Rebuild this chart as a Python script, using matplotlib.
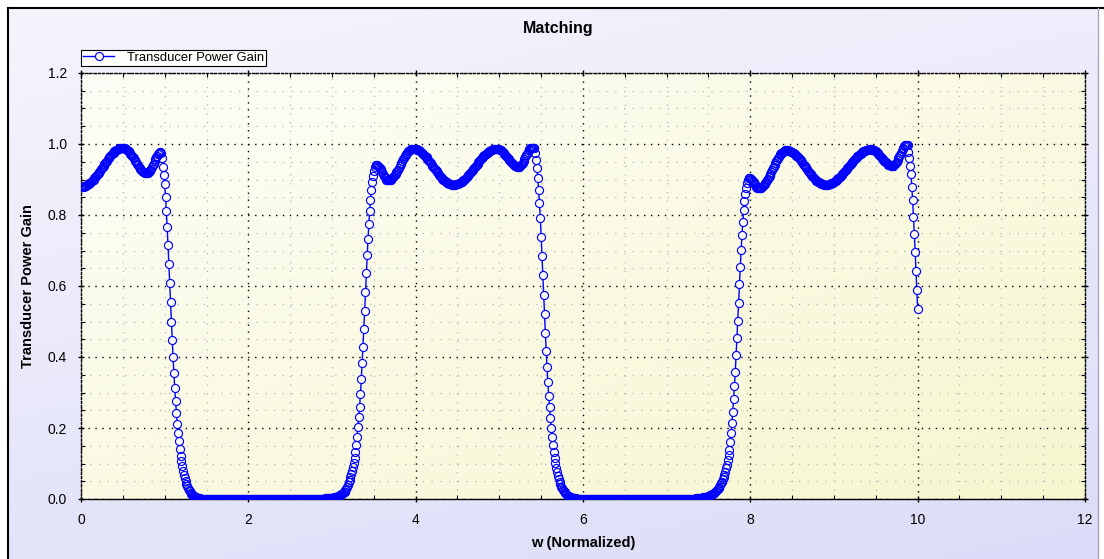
import numpy as np
import matplotlib
matplotlib.use("Agg")
import matplotlib.pyplot as plt
from matplotlib.colors import LinearSegmentedColormap
from matplotlib.lines import Line2D
from matplotlib.ticker import MultipleLocator, FormatStrFormatter

plt.rcParams['font.family'] = ['Liberation Sans', 'DejaVu Sans']

# ---------------- data ----------------
# normalized frequency is sampled every 0.01; each block lists the gain
# starting at its own start frequency.
step = 0.01

band1_start = 0.00          # first passband and its roll-off (0.00 .. 1.39)
band1_gain = [
    0.880, 0.880, 0.880, 0.880, 0.881, 0.882, 0.883, 0.884, 0.886, 0.887,
    0.889, 0.891, 0.893, 0.895, 0.898, 0.900, 0.903, 0.906, 0.909, 0.912,
    0.915, 0.918, 0.922, 0.925, 0.929, 0.932, 0.936, 0.939, 0.943, 0.946,
    0.950, 0.953, 0.957, 0.960, 0.963, 0.966, 0.969, 0.971, 0.974, 0.976,
    0.979, 0.981, 0.983, 0.984, 0.986, 0.987, 0.988, 0.988, 0.989, 0.989,
    0.989, 0.989, 0.988, 0.987, 0.985, 0.983, 0.981, 0.979, 0.976, 0.973,
    0.970, 0.967, 0.963, 0.960, 0.956, 0.952, 0.948, 0.944, 0.940, 0.936,
    0.933, 0.930, 0.927, 0.924, 0.922, 0.920, 0.919, 0.918, 0.918, 0.918,
    0.919, 0.921, 0.923, 0.926, 0.930, 0.935, 0.940, 0.945, 0.951, 0.957,
    0.962, 0.967, 0.972, 0.975, 0.977, 0.977, 0.974, 0.961, 0.936, 0.913,
    0.887, 0.852, 0.812, 0.765, 0.715, 0.662, 0.609, 0.554, 0.499, 0.448,
    0.399, 0.356, 0.314, 0.277, 0.243, 0.211, 0.185, 0.162, 0.141, 0.122,
    0.106, 0.092, 0.079, 0.068, 0.058, 0.050, 0.043, 0.036, 0.031, 0.026,
    0.022, 0.018, 0.015, 0.012, 0.010, 0.008, 0.006, 0.005, 0.004, 0.003]

stop1_start = 1.40          # first stopband (1.40 .. 2.99)
stop1_gain = [
    0.002, 0.002, 0.002, 0.001, 0.001, 0.001, 0.001, 0.001, 0.001, 0.001,
    0.000, 0.000, 0.000, 0.000, 0.000, 0.000, 0.000, 0.000, 0.000, 0.000,
    0.000, 0.000, 0.000, 0.000, 0.000, 0.000, 0.000, 0.000, 0.000, 0.000,
    0.000, 0.000, 0.000, 0.000, 0.000, 0.000, 0.000, 0.000, 0.000, 0.000,
    0.000, 0.000, 0.000, 0.000, 0.000, 0.000, 0.000, 0.000, 0.000, 0.000,
    0.000, 0.000, 0.000, 0.000, 0.000, 0.000, 0.000, 0.000, 0.000, 0.000,
    0.000, 0.000, 0.000, 0.000, 0.000, 0.000, 0.000, 0.000, 0.000, 0.000,
    0.000, 0.000, 0.000, 0.000, 0.000, 0.000, 0.000, 0.000, 0.000, 0.000,
    0.000, 0.000, 0.000, 0.000, 0.000, 0.000, 0.000, 0.000, 0.000, 0.000,
    0.000, 0.000, 0.000, 0.000, 0.000, 0.000, 0.000, 0.000, 0.000, 0.000,
    0.000, 0.000, 0.000, 0.000, 0.000, 0.000, 0.000, 0.000, 0.000, 0.000,
    0.000, 0.000, 0.000, 0.000, 0.000, 0.000, 0.000, 0.000, 0.000, 0.000,
    0.000, 0.000, 0.000, 0.000, 0.000, 0.000, 0.000, 0.000, 0.000, 0.000,
    0.000, 0.000, 0.000, 0.000, 0.000, 0.000, 0.000, 0.000, 0.000, 0.000,
    0.000, 0.000, 0.000, 0.000, 0.000, 0.001, 0.001, 0.001, 0.001, 0.001,
    0.001, 0.001, 0.002, 0.002, 0.002, 0.002, 0.003, 0.003, 0.003, 0.003]

band2_start = 3.00          # second passband with both edges (3.00 .. 5.89)
band2_gain = [
    0.004, 0.004, 0.005, 0.005, 0.006, 0.006, 0.007, 0.008, 0.009, 0.010,
    0.011, 0.013, 0.014, 0.016, 0.019, 0.021, 0.025, 0.029, 0.034, 0.040,
    0.047, 0.054, 0.062, 0.071, 0.080, 0.090, 0.102, 0.116, 0.133, 0.152,
    0.176, 0.202, 0.230, 0.260, 0.296, 0.337, 0.382, 0.429, 0.478, 0.530,
    0.584, 0.636, 0.686, 0.732, 0.774, 0.811, 0.843, 0.870, 0.893, 0.911,
    0.925, 0.935, 0.940, 0.941, 0.940, 0.938, 0.936, 0.933, 0.929, 0.925,
    0.920, 0.915, 0.910, 0.906, 0.903, 0.900, 0.899, 0.898, 0.898, 0.899,
    0.900, 0.902, 0.904, 0.906, 0.909, 0.912, 0.916, 0.920, 0.924, 0.928,
    0.933, 0.938, 0.943, 0.947, 0.952, 0.957, 0.961, 0.965, 0.969, 0.973,
    0.976, 0.979, 0.981, 0.983, 0.985, 0.986, 0.987, 0.987, 0.987, 0.987,
    0.986, 0.985, 0.984, 0.983, 0.982, 0.980, 0.978, 0.976, 0.974, 0.972,
    0.970, 0.967, 0.964, 0.962, 0.959, 0.955, 0.952, 0.949, 0.946, 0.942,
    0.939, 0.936, 0.933, 0.929, 0.926, 0.923, 0.920, 0.917, 0.914, 0.911,
    0.908, 0.905, 0.902, 0.900, 0.898, 0.896, 0.894, 0.892, 0.890, 0.889,
    0.888, 0.887, 0.886, 0.885, 0.885, 0.885, 0.885, 0.885, 0.886, 0.886,
    0.887, 0.888, 0.890, 0.891, 0.892, 0.894, 0.896, 0.898, 0.900, 0.902,
    0.905, 0.907, 0.910, 0.912, 0.915, 0.918, 0.921, 0.924, 0.927, 0.930,
    0.933, 0.936, 0.939, 0.942, 0.945, 0.948, 0.951, 0.954, 0.957, 0.960,
    0.962, 0.965, 0.968, 0.970, 0.972, 0.974, 0.976, 0.978, 0.980, 0.981,
    0.983, 0.984, 0.985, 0.986, 0.986, 0.987, 0.987, 0.987, 0.987, 0.986,
    0.985, 0.984, 0.982, 0.980, 0.978, 0.976, 0.973, 0.970, 0.967, 0.964,
    0.961, 0.958, 0.955, 0.952, 0.949, 0.946, 0.944, 0.942, 0.940, 0.938,
    0.937, 0.936, 0.935, 0.935, 0.936, 0.937, 0.940, 0.943, 0.947, 0.952,
    0.957, 0.963, 0.968, 0.973, 0.978, 0.982, 0.985, 0.988, 0.989, 0.990,
    0.990, 0.990, 0.988, 0.974, 0.955, 0.932, 0.903, 0.870, 0.833, 0.791,
    0.739, 0.685, 0.631, 0.575, 0.520, 0.467, 0.418, 0.371, 0.330, 0.290,
    0.258, 0.227, 0.201, 0.175, 0.152, 0.133, 0.116, 0.101, 0.088, 0.076,
    0.065, 0.056, 0.048, 0.041, 0.035, 0.030, 0.026, 0.022, 0.019, 0.016,
    0.013, 0.011, 0.009, 0.008, 0.007, 0.006, 0.005, 0.004, 0.003, 0.003]

stop2_start = 5.90          # second stopband (5.90 .. 7.49)
stop2_gain = [
    0.002, 0.002, 0.002, 0.001, 0.001, 0.001, 0.001, 0.001, 0.001, 0.001,
    0.001, 0.000, 0.000, 0.000, 0.000, 0.000, 0.000, 0.000, 0.000, 0.000,
    0.000, 0.000, 0.000, 0.000, 0.000, 0.000, 0.000, 0.000, 0.000, 0.000,
    0.000, 0.000, 0.000, 0.000, 0.000, 0.000, 0.000, 0.000, 0.000, 0.000,
    0.000, 0.000, 0.000, 0.000, 0.000, 0.000, 0.000, 0.000, 0.000, 0.000,
    0.000, 0.000, 0.000, 0.000, 0.000, 0.000, 0.000, 0.000, 0.000, 0.000,
    0.000, 0.000, 0.000, 0.000, 0.000, 0.000, 0.000, 0.000, 0.000, 0.000,
    0.000, 0.000, 0.000, 0.000, 0.000, 0.000, 0.000, 0.000, 0.000, 0.000,
    0.000, 0.000, 0.000, 0.000, 0.000, 0.000, 0.000, 0.000, 0.000, 0.000,
    0.000, 0.000, 0.000, 0.000, 0.000, 0.000, 0.000, 0.000, 0.000, 0.000,
    0.000, 0.000, 0.000, 0.000, 0.000, 0.000, 0.000, 0.000, 0.000, 0.000,
    0.000, 0.000, 0.000, 0.000, 0.000, 0.000, 0.000, 0.000, 0.000, 0.000,
    0.000, 0.000, 0.000, 0.000, 0.000, 0.000, 0.000, 0.000, 0.000, 0.000,
    0.000, 0.000, 0.000, 0.000, 0.000, 0.000, 0.000, 0.000, 0.000, 0.000,
    0.001, 0.001, 0.001, 0.001, 0.001, 0.002, 0.002, 0.002, 0.002, 0.003,
    0.003, 0.004, 0.004, 0.004, 0.005, 0.005, 0.006, 0.006, 0.007, 0.007]

band3_start = 7.50          # third passband, cut off at w = 10 (7.50 .. 10.00)
band3_gain = [
    0.008, 0.009, 0.010, 0.011, 0.013, 0.014, 0.016, 0.018, 0.020, 0.022,
    0.025, 0.028, 0.031, 0.035, 0.039, 0.044, 0.049, 0.055, 0.062, 0.069,
    0.077, 0.086, 0.097, 0.109, 0.123, 0.139, 0.160, 0.186, 0.215, 0.246,
    0.281, 0.318, 0.359, 0.406, 0.453, 0.502, 0.553, 0.606, 0.654, 0.701,
    0.744, 0.781, 0.814, 0.839, 0.859, 0.875, 0.889, 0.899, 0.903, 0.904,
    0.903, 0.901, 0.899, 0.896, 0.892, 0.888, 0.884, 0.880, 0.877, 0.876,
    0.875, 0.875, 0.876, 0.877, 0.879, 0.881, 0.884, 0.887, 0.890, 0.894,
    0.898, 0.902, 0.906, 0.911, 0.916, 0.921, 0.926, 0.931, 0.936, 0.941,
    0.946, 0.951, 0.955, 0.960, 0.964, 0.968, 0.971, 0.974, 0.976, 0.978,
    0.980, 0.981, 0.982, 0.982, 0.982, 0.982, 0.981, 0.980, 0.979, 0.978,
    0.977, 0.975, 0.974, 0.972, 0.970, 0.967, 0.965, 0.962, 0.960, 0.957,
    0.954, 0.951, 0.948, 0.945, 0.942, 0.938, 0.935, 0.932, 0.929, 0.925,
    0.922, 0.919, 0.916, 0.913, 0.910, 0.907, 0.905, 0.902, 0.900, 0.897,
    0.895, 0.893, 0.892, 0.890, 0.889, 0.888, 0.887, 0.886, 0.885, 0.885,
    0.885, 0.885, 0.885, 0.885, 0.886, 0.887, 0.888, 0.889, 0.890, 0.891,
    0.893, 0.895, 0.897, 0.899, 0.901, 0.903, 0.905, 0.907, 0.910, 0.912,
    0.915, 0.918, 0.921, 0.923, 0.926, 0.929, 0.932, 0.935, 0.938, 0.941,
    0.944, 0.946, 0.949, 0.952, 0.955, 0.957, 0.960, 0.963, 0.965, 0.967,
    0.969, 0.971, 0.973, 0.975, 0.977, 0.979, 0.980, 0.981, 0.982, 0.983,
    0.984, 0.984, 0.985, 0.985, 0.985, 0.985, 0.984, 0.983, 0.982, 0.981,
    0.979, 0.977, 0.975, 0.972, 0.970, 0.967, 0.964, 0.961, 0.959, 0.956,
    0.953, 0.950, 0.948, 0.946, 0.944, 0.942, 0.941, 0.940, 0.939, 0.938,
    0.938, 0.939, 0.940, 0.943, 0.946, 0.950, 0.955, 0.960, 0.965, 0.970,
    0.976, 0.981, 0.986, 0.990, 0.994, 0.996, 0.998, 0.998, 0.997, 0.978,
    0.960, 0.939, 0.915, 0.880, 0.842, 0.795, 0.746, 0.697, 0.643, 0.589,
    0.534]

series_label = "Transducer Power Gain"
title_text = "Matching"
xlabel_text = "w (Normalized)"
ylabel_text = "Transducer Power Gain"

blocks = [(band1_start, band1_gain), (stop1_start, stop1_gain),
          (band2_start, band2_gain), (stop2_start, stop2_gain),
          (band3_start, band3_gain)]
w = np.concatenate([np.round(s + step * np.arange(len(v)), 3) for s, v in blocks])
gain = np.concatenate([np.asarray(v, float) for _, v in blocks])

# ---------------- figure ----------------
W, H = 1104, 559
fig = plt.figure(figsize=(W / 100, H / 100), dpi=100)
fig.patch.set_facecolor("white")

bg = fig.add_axes([0, 0, 1, 1], zorder=-10)
yy, xx = np.mgrid[0:1:200j, 0:1:400j]
cm_bg = LinearSegmentedColormap.from_list("bg", ["#f5f5fd", "#dcdcf8"])
bg.imshow(0.3 * xx + 0.7 * yy, extent=[8, 1098, H, 8], cmap=cm_bg,
          aspect="auto", interpolation="bilinear")
bg.plot([8, 8], [8, H], color="black", lw=1.5)
bg.plot([8, W], [8, 8], color="black", lw=1.5)
bg.plot([1098, 1098], [8, H], color="#a8a8b8", lw=1)
bg.set_xlim(0, W)
bg.set_ylim(H, 0)
bg.axis("off")

ax = fig.add_axes([81 / W, 1 - 499 / H, (1085 - 81) / W, (499 - 73) / H])
cm_plot = LinearSegmentedColormap.from_list("pl", ["#fefef8", "#f6f6cf"])
ax.imshow(0.5 * xx + 0.5 * yy, extent=[0, 12, 0, 1.2], cmap=cm_plot,
          aspect="auto", interpolation="bilinear", zorder=0)

BLUE = "#0000ff"
MS, MEW = 5.8, 0.85
# connecting line, then all white marker faces, then all marker outlines
ax.plot(w, gain, color=BLUE, lw=1.0, zorder=2)
ax.plot(w, gain, linestyle="none", marker="o", ms=MS, mfc="white",
        mec="none", zorder=3)
ax.plot(w, gain, linestyle="none", marker="o", ms=MS, mfc="none",
        mec=BLUE, mew=MEW, zorder=4)

ax.set_xlim(0, 12)
ax.set_ylim(0, 1.2)
ax.xaxis.set_major_locator(MultipleLocator(2))
ax.xaxis.set_minor_locator(MultipleLocator(0.5))
ax.yaxis.set_major_locator(MultipleLocator(0.2))
ax.yaxis.set_minor_locator(MultipleLocator(0.05))
ax.yaxis.set_major_formatter(FormatStrFormatter("%.1f"))

ax.set_axisbelow(True)
ax.grid(which="major", color="black", linestyle=(0, (1, 4)), linewidth=1.0)
ax.grid(which="minor", color="#b5b5b5", linestyle=(0, (1, 6)), linewidth=0.9)

ax.tick_params(which="both", top=True, right=True, colors="black", labelsize=10)
ax.tick_params(which="major", direction="inout", length=5, width=1, pad=7.5)
ax.tick_params(which="minor", direction="in", length=3, width=0.8)

for side in ["top", "right", "left"]:
    ax.spines[side].set_linestyle((0, (1.5, 1.5)))
for sp in ax.spines.values():
    sp.set_color("black")
    sp.set_linewidth(1.0)

handle = Line2D([], [], color=BLUE, lw=1.0, marker="o", ms=MS,
                mfc="white", mec=BLUE, mew=MEW)
leg = ax.legend([handle], [series_label], loc="lower left",
                bbox_to_anchor=(81 / W, 1 - 66 / H),
                bbox_transform=fig.transFigure, fontsize=9.4, frameon=True,
                fancybox=False, edgecolor="black", facecolor="white",
                framealpha=1, handlelength=2.4, borderpad=0.15,
                borderaxespad=0, handletextpad=1.0)
leg.get_frame().set_linewidth(0.8)

fig.text(558 / W, 1 - 28 / H, title_text, ha="center", va="center",
         fontsize=11.5, fontweight="bold")
fig.text(583 / W, 1 - 543 / H, xlabel_text, ha="center", va="center",
         fontsize=10.5, fontweight="bold")
fig.text(28 / W, 1 - 286 / H, ylabel_text, ha="center", va="center",
         rotation=90, fontsize=10.5, fontweight="bold")

fig.savefig("out.png", dpi=100)
